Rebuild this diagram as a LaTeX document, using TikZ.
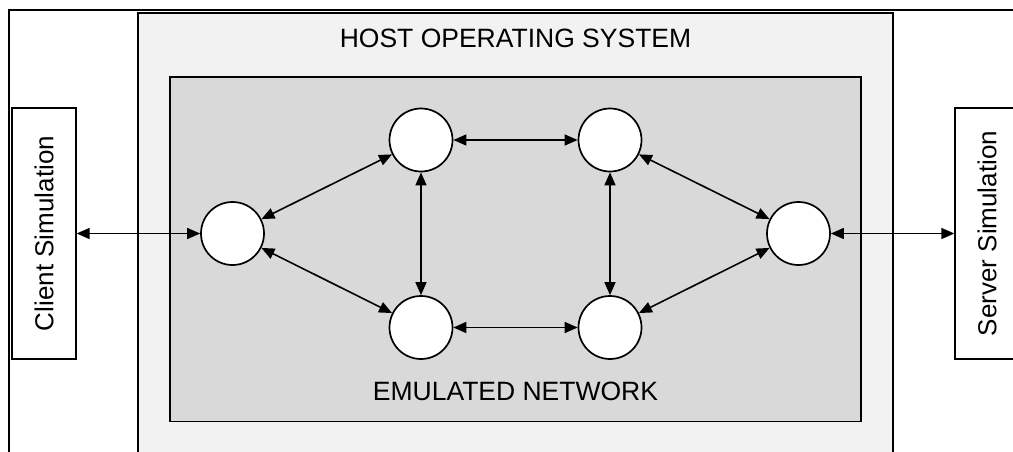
\documentclass[tikz,border=0pt]{standalone}
\usepackage{fontspec}
\setmainfont{Liberation Sans}
\usetikzlibrary{arrows.meta}
\definecolor{hostgray}{HTML}{F2F2F2}
\definecolor{netgray}{HTML}{D9D9D9}
\begin{document}
\begin{tikzpicture}[x=1pt,y=-1pt,
  frame/.style={draw=black, line width=1.4pt},
  relay/.style={circle, draw=black, line width=1.7pt, fill=white, minimum size=63pt, inner sep=0pt},
  simbox/.style={draw=black, line width=1.3pt, fill=white, minimum width=251pt, minimum height=64pt, rotate=90, inner sep=0pt, font=\fontsize{26}{30}\selectfont},
  link/.style={line width=1.6pt, {Triangle[length=13pt,width=11pt]}-{Triangle[length=13pt,width=11pt]}},
  label/.style={font=\fontsize{26.5}{30}\selectfont, inner sep=0pt}
]
\useasboundingbox (0,0) rectangle (1013,452);
\clip (0,0) rectangle (1013,452);
% outer frame
\draw[line width=2.4pt] (9,470) -- (9,10) -- (1030,10);
% host OS
\draw[frame, fill=hostgray] (138,470) -- (138,13) -- (893,13) -- (893,470);
\node[label] (host) at (515.5,38) {HOST OPERATING SYSTEM};
% emulated network
\draw[frame, line width=1.7pt, fill=netgray] (170,77) rectangle (861,421.5);
\node[label] (emu) at (515.5,391) {EMULATED NETWORK};
% simulation boxes
\node[simbox] (client) at (44,233.5) {Client Simulation};
\node[simbox] (server) at (987,233.5) {Server Simulation};
% routers
\node[relay] (L)  at (232.5,233.5) {};
\node[relay] (T1) at (421,140) {};
\node[relay] (T2) at (610,140) {};
\node[relay] (B1) at (421,327.5) {};
\node[relay] (B2) at (610,327.5) {};
\node[relay] (R)  at (798.5,233.5) {};
% links
\draw[link] (client) -- (L);
\draw[link] (L) -- (T1);
\draw[link] (L) -- (B1);
\draw[link] (T1) -- (T2);
\draw[link] (B1) -- (B2);
\draw[link] (T1) -- (B1);
\draw[link] (T2) -- (B2);
\draw[link] (T2) -- (R);
\draw[link] (B2) -- (R);
\draw[link] (R) -- (server);
\end{tikzpicture}
\end{document}
